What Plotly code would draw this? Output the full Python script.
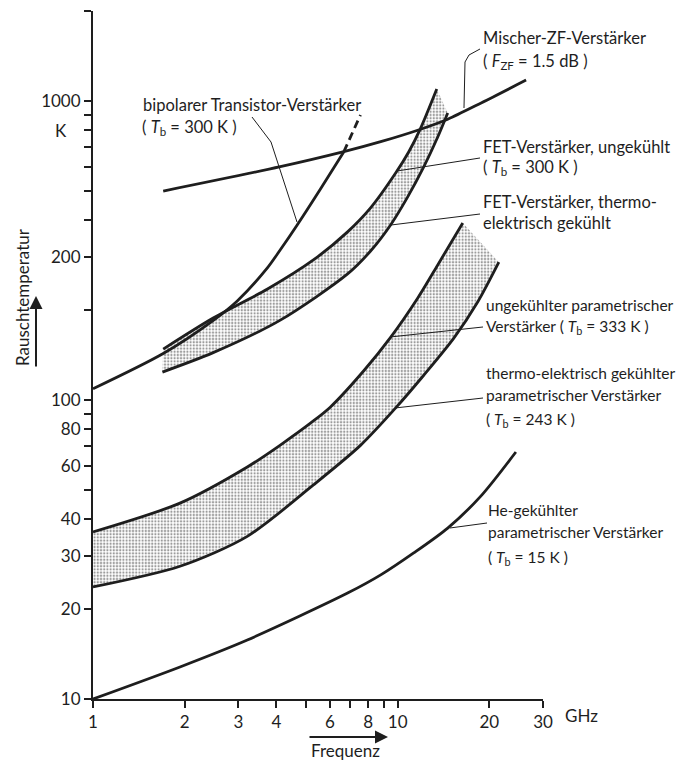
import math
import plotly.graph_objects as go

# ---------------- data (frequency in GHz, noise temperature in K) ----------------
bip_f = [1.0, 1.70, 2.49, 2.97, 3.73, 4.12, 4.68, 5.58, 6.66]
bip_T = [109, 143, 185, 214, 276, 318, 385, 508, 677]
bip_dash_f = [6.66, 7.55]
bip_dash_T = [677, 898]

mix_f = [1.70, 4.12, 6.66, 8.80, 11.7, 14.6, 18.8, 26.4]
mix_T = [500, 603, 677, 731, 800, 869, 985, 1175]

fetu_f = [1.70, 2.48, 3.74, 5.29, 6.85, 8.15, 9.85, 10.87, 11.90, 13.44]
fetu_T = [148, 188, 235, 294, 365, 439, 574, 675, 812, 1097]
fetc_f = [1.69, 2.48, 4.12, 6.85, 8.15, 9.48, 10.79, 12.18, 13.54, 14.60]
fetc_T = [124, 144, 185, 264, 315, 385, 478, 602, 758, 912]

paru_f = [1.0, 1.93, 3.21, 4.12, 5.29, 6.02, 7.73, 9.48, 11.63, 13.54, 16.36]
paru_T = [36.2, 45.2, 59.7, 70.7, 85.1, 94.8, 125, 162, 219, 283, 391]
parc_f = [1.0, 1.93, 3.21, 5.29, 7.55, 9.92, 12.18, 15.29, 18.33, 21.49]
parc_T = [23.7, 27.8, 35.0, 52.0, 70.5, 94.8, 121, 161, 213, 289]

he_f = [1.0, 1.93, 3.21, 6.85, 8.80, 11.29, 14.60, 18.75, 24.44]
he_T = [10.0, 12.8, 15.75, 22.6, 26.0, 30.8, 37.3, 47.7, 67.0]

x_tickvals = [1, 2, 3, 4, 5, 6, 7, 8, 9, 10, 20, 30]
x_ticktext = ["1", "2", "3", "4", "", "6", "", "8", "", "10", "20", "30"]
y_tickvals = [10, 20, 30, 40, 50, 60, 70, 80, 90, 100, 200, 300, 400, 500,
              600, 700, 800, 900, 1000, 2000]
y_ticktext = ["10", "20", "30", "40", "", "60", "", "80", "", "100", "", "200",
              "", "", "", "", "", "", "1000", ""]

# ---------------- geometry helpers ----------------
# the page body has an 8px margin, so the figure is drawn 8px smaller
OFF = 8
W, H = 684 - OFF, 762 - OFF
PL, PR, PT, PB = 93, 543, 11, 699          # plot area in window pixels
ML, MT = PL - OFF, PT - OFF
PW, PH = PR - PL, PB - PT
MR, MB = W - ML - PW, H - MT - PH


def px(xp):
    return (xp - PL) / PW


def py(yp):
    return (PB - yp) / PH


INK = "#1e1e1e"
FONT = "Lato"
LW = 2.8

fig = go.Figure()

pattern = dict(shape=".", fgcolor="#3a3a3a", bgcolor="white", size=3.2, solidity=0.4)


def band(fu, tu, fl, tl):
    fig.add_trace(go.Scatter(
        x=fu + fl[::-1], y=tu + tl[::-1], mode="lines", fill="toself",
        fillcolor="white", fillpattern=pattern, line=dict(width=0),
        hoverinfo="skip", showlegend=False))


def curve(f, t, dash="solid"):
    fig.add_trace(go.Scatter(
        x=f, y=t, mode="lines",
        line=dict(color=INK, width=LW, shape="spline", smoothing=0.8, dash=dash),
        hoverinfo="skip", showlegend=False))


band(fetu_f, fetu_T, fetc_f, fetc_T)
band(paru_f, paru_T, parc_f, parc_T)

curve(bip_f, bip_T)
curve(bip_dash_f, bip_dash_T, dash="8px,5px")
curve(mix_f, mix_T)
curve(fetu_f, fetu_T)
curve(fetc_f, fetc_T)
curve(paru_f, paru_T)
curve(parc_f, parc_T)
curve(he_f, he_T)

# ---------------- leader lines ----------------
leaders = [
    [(252, 117), (271, 142), (297, 222)],
    [(480, 49), (469, 55), (465, 62), (464, 108)],
    [(480, 158), (397, 171)],
    [(480, 214), (391, 225)],
    [(483, 327), (390, 337)],
    [(483, 398), (395, 408)],
    [(487, 523), (450, 528)],
]
for pts in leaders:
    path = "M " + " L ".join(f"{px(a):.5f},{py(b):.5f}" for a, b in pts)
    fig.add_shape(type="path", path=path, xref="paper", yref="paper",
                  line=dict(color=INK, width=1))

# ---------------- labels ----------------
TB = "<i>T</i><sub>b</sub>"
labels = [
    (141, 105, "bipolarer Transistor-Verstärker", 16.5),
    (140, 128, f"( {TB} = 300 K )", 16.5),
    (481, 38, "Mischer-ZF-Verstärker", 16.5),
    (481, 61, "( <i>F</i><sub>ZF</sub> = 1.5 dB )", 16.5),
    (481, 147, "FET-Verstärker, ungekühlt", 16.5),
    (481, 168, f"( {TB} = 300 K )", 16.5),
    (481, 202, "FET-Verstärker, thermo-", 16.5),
    (481, 223, "elektrisch gekühlt", 16.5),
    (484, 305, "ungekühlter parametrischer", 15.5),
    (484, 327, f"Verstärker ( {TB} = 333 K )", 15.5),
    (484, 373, "thermo-elektrisch gekühlter", 15.5),
    (484, 395, "parametrischer Verstärker", 15.5),
    (484, 420, f"( {TB} = 243 K )", 15.5),
    (486, 510, "He-gekühlter", 15.5),
    (486, 532, "parametrischer Verstärker", 15.5),
    (486, 558, f"( {TB} = 15 K )", 15.5),
]
for xp, yp, txt, fs in labels:
    fig.add_annotation(x=px(xp), y=py(yp), xref="paper", yref="paper",
                       text=txt, showarrow=False, xanchor="left", yanchor="middle",
                       font=dict(family=FONT, size=fs, color=INK))

# unit labels
fig.add_annotation(x=px(563), y=py(715), xref="paper", yref="paper", text="GHz",
                   showarrow=False, xanchor="left", yanchor="middle",
                   font=dict(family=FONT, size=17, color=INK))
fig.add_annotation(x=px(69), y=py(131), xref="paper", yref="paper", text="K",
                   showarrow=False, xanchor="right", yanchor="middle",
                   font=dict(family=FONT, size=17, color=INK))

# axis titles with arrows
fig.add_annotation(x=px(22), y=py(297), xref="paper", yref="paper",
                   text="Rauschtemperatur", textangle=-90, showarrow=False,
                   xanchor="center", yanchor="middle",
                   font=dict(family=FONT, size=17, color=INK))
fig.add_annotation(x=px(36), y=py(296), xref="paper", yref="paper", text="",
                   showarrow=True, ax=0, ay=72, arrowhead=2, arrowsize=1.3,
                   arrowwidth=2, arrowcolor=INK)
fig.add_annotation(x=px(345), y=py(751), xref="paper", yref="paper",
                   text="Frequenz", showarrow=False, xanchor="center",
                   yanchor="middle", font=dict(family=FONT, size=17, color=INK))
fig.add_annotation(x=px(388), y=py(737), xref="paper", yref="paper", text="",
                   showarrow=True, ax=-80, ay=0, arrowhead=2, arrowsize=1.3,
                   arrowwidth=2, arrowcolor=INK)

axis_common = dict(
    type="log", showgrid=False, zeroline=False, showline=True, linewidth=2,
    linecolor=INK, ticks="outside", ticklen=7, tickwidth=1.5, tickcolor=INK,
    tickmode="array", tickfont=dict(family=FONT, size=17, color=INK),
)
fig.update_layout(
    width=W, height=H,
    margin=dict(l=ML, r=MR, t=MT, b=MB, pad=0),
    paper_bgcolor="white", plot_bgcolor="white",
    xaxis=dict(range=[0, math.log10(30)], tickvals=x_tickvals,
               ticktext=x_ticktext, **axis_common),
    yaxis=dict(range=[1, math.log10(2000)], tickvals=y_tickvals,
               ticktext=y_ticktext, **axis_common),
    showlegend=False,
)

fig.write_html("out.html")
